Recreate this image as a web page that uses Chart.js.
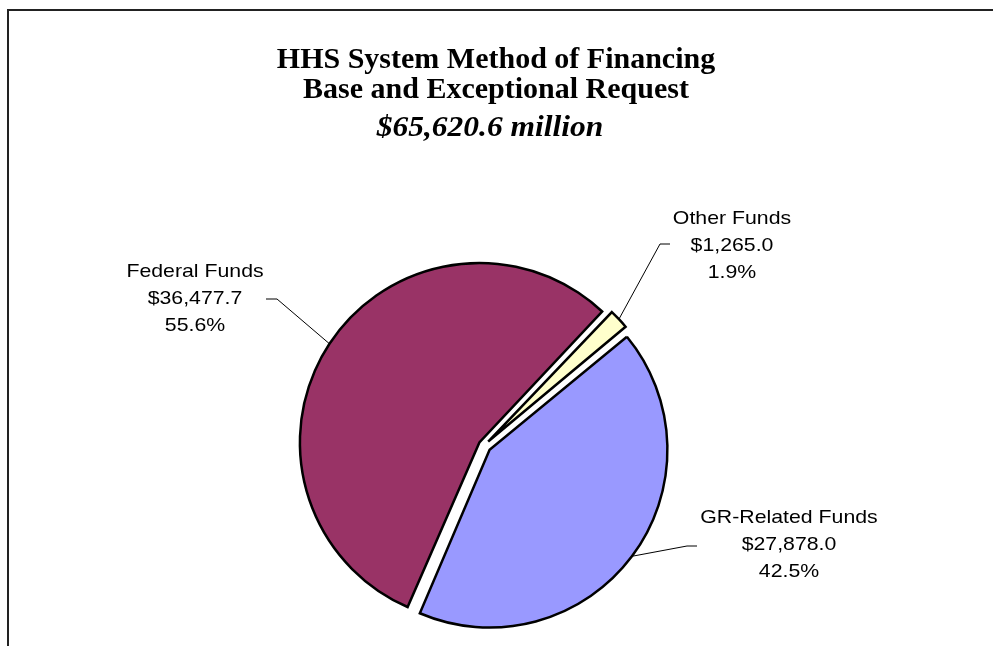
<!DOCTYPE html>
<html>
<head>
<meta charset="utf-8">
<title>HHS System Method of Financing</title>
<script src="https://cdn.jsdelivr.net/npm/chart.js@4/dist/chart.umd.min.js"></script>
<style>
    html, body { margin: 0; padding: 0; background: #fff; }
    #wrap { width: 993px; height: 646px; overflow: hidden; }
</style>
</head>
<body>
<div id="wrap"><canvas id="mofChart" width="993" height="646"></canvas></div>
<script>
// Method of financing, $ millions
const fundNames = ['Federal Funds', 'Other Funds', 'GR-Related Funds'];
const fundAmounts = [36477.7, 1265.0, 27878.0];
const fundColors = ['#993366', '#FFFFCC', '#9999FF'];
const titleLines = ['HHS System Method of Financing', 'Base and Exceptional Request'];
const totalLabel = '$65,620.6 million';

// label blocks: text centre x, first line y, leader elbow and tail
const labelSpots = [
    { x: 195, y: 272, elbowX: 277, elbowY: 299, tailX: 266 },
    { x: 732, y: 219, elbowX: 660, elbowY: 244, tailX: 670 },
    { x: 789, y: 518, elbowX: 687, elbowY: 546, tailX: 697 }
];

const LABEL_FONT = '19px "Liberation Sans", Arial, sans-serif';
const TITLE_FONT = 'bold 30px "Liberation Serif", "Times New Roman", serif';
const SUB_FONT = 'italic bold 30px "Liberation Serif", "Times New Roman", serif';

function money(v) {
    return '$' + v.toLocaleString('en-US', { minimumFractionDigits: 1, maximumFractionDigits: 1 });
}

// labels are set a little wide, like the old spreadsheet export
function wideText(ctx, text, x, y, stretch) {
    ctx.save();
    ctx.translate(x, y);
    ctx.scale(stretch, 1);
    ctx.fillText(text, 0, 0);
    ctx.restore();
}

// point on the outside edge of an exploded slice, at its mid angle
function edgePoint(arc) {
    const p = arc.getProps(['x', 'y', 'startAngle', 'endAngle', 'outerRadius', 'circumference']);
    const mid = (p.startAngle + p.endAngle) / 2;
    const off = (arc.options.offset || 0) / 4;
    const fix = 1 - Math.sin(Math.min(Math.PI, p.circumference || 0));
    const r = p.outerRadius + off * (1 + fix);
    return { x: p.x + Math.cos(mid) * r, y: p.y + Math.sin(mid) * r };
}

const framePlugin = {
    id: 'frame',
    beforeDraw(chart) {
        const ctx = chart.ctx;
        ctx.save();
        ctx.fillStyle = '#fff';
        ctx.fillRect(0, 0, chart.width, chart.height);
        ctx.strokeStyle = '#222';
        ctx.lineWidth = 2;
        ctx.beginPath();
        ctx.moveTo(8, chart.height + 5);
        ctx.lineTo(8, 10);
        ctx.lineTo(chart.width + 5, 10);
        ctx.stroke();

        ctx.fillStyle = '#000';
        ctx.textAlign = 'center';
        ctx.textBaseline = 'middle';
        ctx.font = TITLE_FONT;
        wideText(ctx, titleLines[0], 496, 60, 1);
        wideText(ctx, titleLines[1], 496, 90, 1);
        ctx.font = SUB_FONT;
        wideText(ctx, totalLabel, 490, 128, 1.05);
        ctx.restore();
    }
};

const calloutPlugin = {
    id: 'callouts',
    afterDatasetsDraw(chart) {
        const ctx = chart.ctx;
        const arcs = chart.getDatasetMeta(0).data;
        const total = fundAmounts.reduce((a, b) => a + b, 0);
        ctx.save();
        arcs.forEach((arc, i) => {
            const spot = labelSpots[i];
            const edge = edgePoint(arc);
            ctx.strokeStyle = '#000';
            ctx.lineWidth = 1;
            ctx.beginPath();
            ctx.moveTo(spot.tailX, spot.elbowY);
            ctx.lineTo(spot.elbowX, spot.elbowY);
            ctx.lineTo(edge.x, edge.y);
            ctx.stroke();

            const lines = [
                fundNames[i],
                money(fundAmounts[i]),
                (fundAmounts[i] / total * 100).toFixed(1) + '%'
            ];
            ctx.fillStyle = '#000';
            ctx.font = LABEL_FONT;
            ctx.textAlign = 'center';
            ctx.textBaseline = 'middle';
            lines.forEach((t, k) => wideText(ctx, t, spot.x, spot.y + k * 27, 1.12));
        });
        ctx.restore();
    }
};

new Chart(document.getElementById('mofChart'), {
    type: 'pie',
    data: {
        labels: fundNames,
        datasets: [{
            data: fundAmounts,
            backgroundColor: fundColors,
            borderColor: '#000',
            borderWidth: 2.5,
            borderJoinStyle: 'miter',
            offset: [22, 23, 28],
            radius: 174
        }]
    },
    options: {
        responsive: false,
        devicePixelRatio: 1,
        animation: false,
        events: [],
        rotation: 203.3,
        layout: { padding: { top: 245, left: 0, right: 25, bottom: 0 } },
        plugins: {
            legend: { display: false },
            tooltip: { enabled: false },
            title: { display: false }
        }
    },
    plugins: [framePlugin, calloutPlugin]
});
</script>
</body>
</html>
